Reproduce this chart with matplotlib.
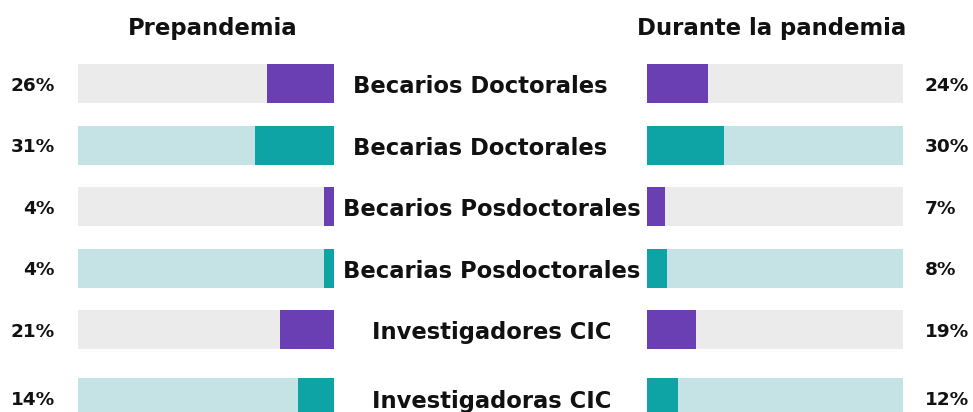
import matplotlib.pyplot as plt

categorias = ["Becarios Doctorales", "Becarias Doctorales", "Becarios Posdoctorales",
              "Becarias Posdoctorales", "Investigadores CIC", "Investigadoras CIC"]
prepandemia = [26, 31, 4, 4, 21, 14]
pandemia = [24, 30, 7, 8, 19, 12]

purple = "#6a3fb4"
teal = "#0ea3a5"
gray = "#ebebeb"
light_teal = "#c5e2e4"
fg = [purple, teal] * 3
bg = [gray, light_teal] * 3

# row positions (last row sits a little lower in the original)
rows = [0, 1, 2, 3, 4, 5.11]
# first two labels sit a bit left of the centre
label_dx = [-8, -8, 0, 0, 0, 0]

W, H = 973, 412
fig = plt.figure(figsize=(W / 100, H / 100), dpi=100)
plt.rcParams['font.family'] = ['DejaVu Sans']

row0, step = 83.5, 61.5
ylim = ((H - row0) / step, -row0 / step)
bh = 39 / step

ax1 = fig.add_axes([78 / W, 0, 256 / W, 1])
ax2 = fig.add_axes([647 / W, 0, 256 / W, 1])

for ax, vals in [(ax1, prepandemia), (ax2, pandemia)]:
    ax.barh(rows, [100] * len(vals), height=bh, color=bg)
    ax.barh(rows, vals, height=bh, color=fg)
    ax.set_ylim(*ylim)
    ax.axis("off")

ax1.set_xlim(100, 0)
ax2.set_xlim(0, 100)

for y, v in zip(rows, prepandemia):
    ax1.annotate(f"{v}%", (100, y), xytext=(-16.6, -1.5), textcoords="offset points",
                 ha="right", va="center", fontsize=13.3, fontweight="bold", color="#111111")
for y, v in zip(rows, pandemia):
    ax2.annotate(f"{v}%", (100, y), xytext=(15.8, -1.5), textcoords="offset points",
                 ha="left", va="center", fontsize=13.3, fontweight="bold", color="#111111")
for y, c, dx in zip(rows, categorias, label_dx):
    ax2.annotate(c, (0, y), xytext=(-112 + dx, -2.5), textcoords="offset points",
                 ha="center", va="center", fontsize=16.3, fontweight="bold", color="#111111")

fig.text(213 / W, 1 - 29 / H, "Prepandemia", ha="center", va="center",
         fontsize=16.4, fontweight="bold", color="#111111")
fig.text(772 / W, 1 - 29 / H, "Durante la pandemia", ha="center", va="center",
         fontsize=16.4, fontweight="bold", color="#111111")

fig.savefig("out.png", dpi=100)
